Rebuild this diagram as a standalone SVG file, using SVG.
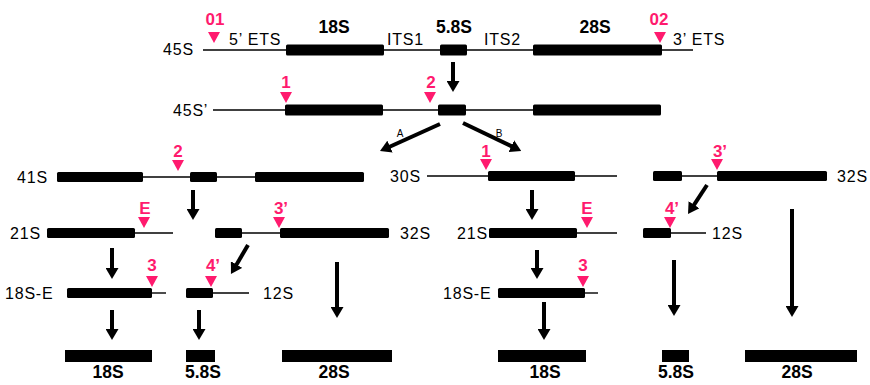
<svg xmlns="http://www.w3.org/2000/svg" xmlns:xlink="http://www.w3.org/1999/xlink" width="870" height="385" viewBox="0 0 870 385">
  <style>
    .lbl { font-family: "Liberation Sans", Arial, sans-serif; font-size: 16px; fill: #000; letter-spacing: 0.8px; }
    .name { font-family: "Liberation Sans", Arial, sans-serif; font-size: 17.5px; font-weight: bold; fill: #000; text-anchor: middle; }
    .site { font-family: "Liberation Sans", Arial, sans-serif; font-size: 17px; font-weight: bold; fill: #ff1a6e; text-anchor: middle; }
    .path { font-family: "Liberation Sans", Arial, sans-serif; font-size: 10px; fill: #000; text-anchor: middle; }
    .spacer { stroke: #000; stroke-width: 1.4; fill: none; }
    .rrna { fill: #000; }
    .arrow { stroke: #000; stroke-width: 4; fill: none; marker-end: url(#head); }
    .cut { fill: #ff1a6e; }
  </style>
  <defs>
    <marker id="head" viewBox="0 0 11 13" refX="1" refY="6.5" markerWidth="11" markerHeight="13" markerUnits="userSpaceOnUse" orient="auto">
      <path d="M0,0 L11,6.5 L0,13 z" fill="#000"/>
    </marker>
    <path id="tri" d="M-6,-11 L6,-11 L0,0 z"/>
  </defs>
  <rect width="870" height="385" fill="#fff"/>

  <!-- primary transcript -->
  <g id="pre45S">
    <line class="spacer" x1="203" y1="50" x2="693" y2="50"/>
    <rect class="rrna" x="286" y="44.5" width="98" height="11" rx="1.5"/>
    <rect class="rrna" x="440" y="44.5" width="27" height="11" rx="1.5"/>
    <rect class="rrna" x="533" y="44.5" width="129" height="11" rx="1.5"/>
    <text class="lbl" x="163" y="55">45S</text>
    <text class="lbl" x="229" y="45">5’ ETS</text>
    <text class="lbl" x="387" y="45">ITS1</text>
    <text class="lbl" x="484" y="45">ITS2</text>
    <text class="lbl" x="673" y="45">3’ ETS</text>
    <text class="name" x="334" y="33">18S</text>
    <text class="name" x="454" y="33">5.8S</text>
    <text class="name" x="595" y="33">28S</text>
    <use href="#tri" class="cut" x="214" y="43"/>
    <text class="site" x="215" y="25">01</text>
    <use href="#tri" class="cut" x="660" y="43"/>
    <text class="site" x="659" y="25">02</text>
  </g>

  <g id="pre45Sp">
    <line class="spacer" x1="213" y1="110" x2="661" y2="110"/>
    <rect class="rrna" x="285" y="104.5" width="98" height="11" rx="1.5"/>
    <rect class="rrna" x="438" y="104.5" width="28" height="11" rx="1.5"/>
    <rect class="rrna" x="533" y="104.5" width="128" height="11" rx="1.5"/>
    <text class="lbl" x="173" y="116">45S’</text>
    <use href="#tri" class="cut" x="286" y="103"/>
    <text class="site" x="286" y="88">1</text>
    <use href="#tri" class="cut" x="430" y="103"/>
    <text class="site" x="431" y="88">2</text>
  </g>

  <!-- pathway A -->
  <g id="pre41S">
    <line class="spacer" x1="57" y1="177" x2="364" y2="177"/>
    <rect class="rrna" x="57" y="172" width="86" height="10" rx="1.5"/>
    <rect class="rrna" x="190" y="172" width="27" height="10" rx="1.5"/>
    <rect class="rrna" x="255" y="172" width="109" height="10" rx="1.5"/>
    <text class="lbl" x="17" y="183">41S</text>
    <use href="#tri" class="cut" x="178" y="171"/>
    <text class="site" x="178" y="157">2</text>
  </g>

  <g id="pre21S-A">
    <line class="spacer" x1="135" y1="233" x2="173" y2="233"/>
    <rect class="rrna" x="47" y="228" width="88" height="10" rx="1.5"/>
    <text class="lbl" x="10" y="239">21S</text>
    <use href="#tri" class="cut" x="144" y="228"/>
    <text class="site" x="145" y="214">E</text>
  </g>

  <g id="pre32S-A">
    <line class="spacer" x1="242" y1="233" x2="280" y2="233"/>
    <rect class="rrna" x="215" y="228" width="27" height="10" rx="1.5"/>
    <rect class="rrna" x="280" y="228" width="109" height="10" rx="1.5"/>
    <text class="lbl" x="400" y="239">32S</text>
    <use href="#tri" class="cut" x="279" y="228"/>
    <text class="site" x="281" y="214">3’</text>
  </g>

  <g id="pre18SE-A">
    <line class="spacer" x1="152" y1="293" x2="166" y2="293"/>
    <rect class="rrna" x="67" y="288" width="85" height="10" rx="1.5"/>
    <text class="lbl" x="5" y="299">18S-E</text>
    <use href="#tri" class="cut" x="152" y="287"/>
    <text class="site" x="152" y="271">3</text>
  </g>

  <g id="pre12S-A">
    <line class="spacer" x1="213" y1="293" x2="249" y2="293"/>
    <rect class="rrna" x="186" y="288" width="27" height="10" rx="1.5"/>
    <text class="lbl" x="263" y="299">12S</text>
    <use href="#tri" class="cut" x="211" y="287"/>
    <text class="site" x="213" y="271">4’</text>
  </g>

  <!-- pathway B -->
  <g id="pre30S">
    <line class="spacer" x1="427" y1="176" x2="617" y2="176"/>
    <rect class="rrna" x="488" y="171" width="87" height="10" rx="1.5"/>
    <text class="lbl" x="390" y="182">30S</text>
    <use href="#tri" class="cut" x="486" y="170"/>
    <text class="site" x="486" y="157">1</text>
  </g>

  <g id="pre32S-B">
    <line class="spacer" x1="682" y1="176" x2="717" y2="176"/>
    <rect class="rrna" x="653" y="171" width="29" height="10" rx="1.5"/>
    <rect class="rrna" x="717" y="171" width="110" height="10" rx="1.5"/>
    <text class="lbl" x="837" y="182">32S</text>
    <use href="#tri" class="cut" x="717" y="170"/>
    <text class="site" x="720" y="157">3’</text>
  </g>

  <g id="pre21S-B">
    <line class="spacer" x1="577" y1="233" x2="617" y2="233"/>
    <rect class="rrna" x="489" y="228" width="88" height="10" rx="1.5"/>
    <text class="lbl" x="457" y="239">21S</text>
    <use href="#tri" class="cut" x="587" y="228"/>
    <text class="site" x="587" y="214">E</text>
  </g>

  <g id="pre12S-B">
    <line class="spacer" x1="671" y1="233" x2="706" y2="233"/>
    <rect class="rrna" x="643" y="228" width="28" height="10" rx="1.5"/>
    <text class="lbl" x="712" y="239">12S</text>
    <use href="#tri" class="cut" x="670" y="228"/>
    <text class="site" x="672" y="214">4’</text>
  </g>

  <g id="pre18SE-B">
    <line class="spacer" x1="585" y1="293" x2="598" y2="293"/>
    <rect class="rrna" x="498" y="288" width="87" height="10" rx="1.5"/>
    <text class="lbl" x="443" y="299">18S-E</text>
    <use href="#tri" class="cut" x="583" y="287"/>
    <text class="site" x="583" y="271">3</text>
  </g>

  <!-- mature rRNAs -->
  <g id="mature-A">
    <rect class="rrna" x="65" y="350" width="87" height="12"/>
    <rect class="rrna" x="186" y="350" width="29" height="12"/>
    <rect class="rrna" x="282" y="350" width="110" height="12"/>
    <text class="name" x="108" y="378">18S</text>
    <text class="name" x="203" y="378">5.8S</text>
    <text class="name" x="334" y="378">28S</text>
  </g>
  <g id="mature-B">
    <rect class="rrna" x="498" y="350" width="88" height="12"/>
    <rect class="rrna" x="662" y="350" width="27" height="12"/>
    <rect class="rrna" x="745" y="350" width="112" height="12"/>
    <text class="name" x="545" y="378">18S</text>
    <text class="name" x="676" y="378">5.8S</text>
    <text class="name" x="797" y="378">28S</text>
  </g>

  <!-- processing steps -->
  <g id="connectors">
    <line class="arrow" x1="453" y1="62" x2="453" y2="82"/>
    <line class="arrow" x1="440" y1="124" x2="389.1" y2="147"/>
    <line class="arrow" x1="463" y1="123" x2="512.2" y2="146.6"/>
    <text class="path" x="400" y="137">A</text>
    <text class="path" x="499" y="137">B</text>
    <line class="arrow" x1="193" y1="190" x2="193" y2="210"/>
    <line class="arrow" x1="532" y1="190" x2="532" y2="210"/>
    <line class="arrow" x1="707" y1="185" x2="693.5" y2="205.6"/>
    <line class="arrow" x1="792" y1="209" x2="792" y2="307"/>
    <line class="arrow" x1="112" y1="248" x2="112" y2="269"/>
    <line class="arrow" x1="537" y1="250" x2="537" y2="269"/>
    <line class="arrow" x1="248" y1="245" x2="236" y2="265.4"/>
    <line class="arrow" x1="337" y1="262" x2="337" y2="308"/>
    <line class="arrow" x1="674" y1="260" x2="674" y2="306"/>
    <line class="arrow" x1="112" y1="310" x2="112" y2="330"/>
    <line class="arrow" x1="199" y1="310" x2="199" y2="330"/>
    <line class="arrow" x1="544" y1="302" x2="544" y2="330"/>
  </g>
</svg>
